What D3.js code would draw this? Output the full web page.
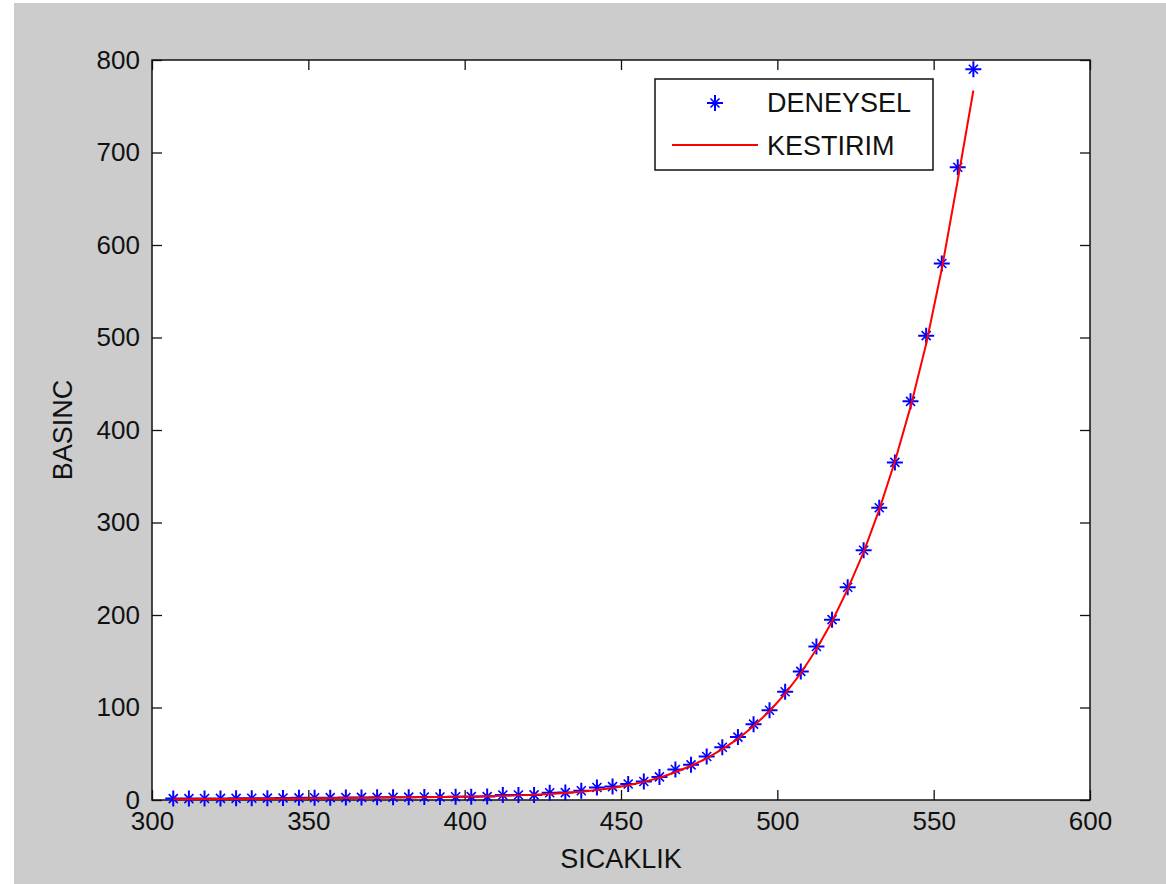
<!DOCTYPE html>
<html>
<head>
<meta charset="utf-8">
<script src="https://cdn.jsdelivr.net/npm/d3@7"></script>
<style>
  body { margin: 0; background: #fff; }
  svg text { font-family: "Liberation Sans", Arial, sans-serif; fill: #111; }
</style>
</head>
<body>
<div id="chart"></div>
<script>
// measured points (SICAKLIK vs BASINC)
const sicaklik = [306.8, 311.8, 316.8, 321.9, 326.9, 331.9, 336.9, 341.9, 347.0, 352.0,
  357.0, 362.0, 367.0, 372.0, 377.1, 382.1, 387.1, 392.1, 397.1, 402.1,
  407.2, 412.2, 417.2, 422.2, 427.2, 432.2, 437.3, 442.3, 447.3, 452.3,
  457.3, 462.3, 467.4, 472.4, 477.4, 482.4, 487.4, 492.4, 497.5, 502.5,
  507.5, 512.5, 517.5, 522.5, 527.6, 532.6, 537.6, 542.6, 547.6, 552.6,
  557.7, 562.7];
const deneysel = [1.5, 1.5, 1.6, 1.7, 1.8, 1.9, 2.0, 2.1, 2.3, 2.4,
  2.5, 2.6, 2.8, 2.9, 3.0, 3.1, 3.2, 3.3, 3.5, 3.6,
  3.7, 5.4, 5.4, 5.5, 7.8, 8.0, 10.0, 13.5, 14.5, 17.3,
  20, 25, 33, 38, 47, 57, 68, 82, 97, 117,
  139, 166, 195, 230, 270, 316, 365, 431, 502, 580,
  684, 790];
// fitted curve
const kestirim = [0.8, 0.9, 1.0, 1.1, 1.2, 1.3, 1.4, 1.5, 1.7, 1.8,
  2.0, 2.1, 2.3, 2.5, 2.7, 2.9, 3.1, 3.3, 3.5, 3.7,
  4.0, 4.5, 5.0, 5.7, 6.5, 7.6, 9.0, 10.8, 13.0, 16.0,
  19.6, 24, 30, 37, 45, 55, 66, 80, 96, 115,
  137, 163, 193, 228, 268, 314, 366, 425, 493, 574,
  670, 767];

const xTicks = [300, 350, 400, 450, 500, 550, 600];
const yTicks = [0, 100, 200, 300, 400, 500, 600, 700, 800];
const seriesNames = ["DENEYSEL", "KESTIRIM"];

const W = 1166, H = 884;
const plot = { left: 152, top: 60, right: 1090, bottom: 800 };

const svg = d3.select("#chart")
  .append("svg")
  .attr("width", W)
  .attr("height", H);

// figure background
svg.append("rect")
  .attr("x", 14).attr("y", 3)
  .attr("width", W - 14).attr("height", H - 3)
  .attr("fill", "#cccccc");

svg.append("rect")
  .attr("x", plot.left).attr("y", plot.top)
  .attr("width", plot.right - plot.left)
  .attr("height", plot.bottom - plot.top)
  .attr("fill", "#fff");

const x = d3.scaleLinear().domain([300, 600]).range([plot.left, plot.right]);
const y = d3.scaleLinear().domain([0, 800]).range([plot.bottom, plot.top]);

function styleAxis(g) {
  g.select(".domain").remove();
  g.selectAll(".tick line").attr("stroke", "#111").attr("stroke-width", 1.3);
  g.selectAll("text").style("font-size", "26px").attr("fill", "#111");
}

svg.append("g")
  .attr("transform", `translate(0,${plot.bottom})`)
  .call(d3.axisBottom(x).tickValues(xTicks).tickSize(-10).tickPadding(12))
  .call(styleAxis);

svg.append("g")
  .attr("transform", `translate(0,${plot.top})`)
  .call(d3.axisTop(x).tickValues(xTicks).tickSize(-10).tickFormat(""))
  .call(styleAxis);

svg.append("g")
  .attr("transform", `translate(${plot.left},0)`)
  .call(d3.axisLeft(y).tickValues(yTicks).tickSize(-10).tickPadding(12))
  .call(styleAxis);

svg.append("g")
  .attr("transform", `translate(${plot.right},0)`)
  .call(d3.axisRight(y).tickValues(yTicks).tickSize(-10).tickFormat(""))
  .call(styleAxis);

// axes box
svg.append("rect")
  .attr("x", plot.left).attr("y", plot.top)
  .attr("width", plot.right - plot.left)
  .attr("height", plot.bottom - plot.top)
  .attr("fill", "none")
  .attr("stroke", "#111")
  .attr("stroke-width", 1.5);

// star marker like matlab '*'
const starPath = "M-8,0H8M0,-8V8";
const starDiag = "M-4.5,-4.5L4.5,4.5M-4.5,4.5L4.5,-4.5";

function drawStar(g) {
  g.append("path").attr("d", starPath).attr("stroke", "#0000ff").attr("stroke-width", 2);
  g.append("path").attr("d", starDiag).attr("stroke", "#0000ff").attr("stroke-width", 1.6);
}

const points = sicaklik.map((t, i) => ({ t: t, p: deneysel[i], f: kestirim[i] }));

svg.append("g")
  .selectAll("g")
  .data(points)
  .enter()
  .append("g")
  .attr("transform", d => `translate(${x(d.t)},${y(d.p)})`)
  .each(function () { drawStar(d3.select(this)); });

const line = d3.line()
  .x(d => x(d.t))
  .y(d => y(d.f));

svg.append("path")
  .datum(points)
  .attr("d", line)
  .attr("fill", "none")
  .attr("stroke", "#ff0000")
  .attr("stroke-width", 2);

// axis labels
svg.append("text")
  .attr("x", (plot.left + plot.right) / 2)
  .attr("y", 868)
  .attr("text-anchor", "middle")
  .style("font-size", "27px")
  .text("SICAKLIK");

svg.append("text")
  .attr("transform", `translate(72,${(plot.top + plot.bottom) / 2}) rotate(-90)`)
  .attr("text-anchor", "middle")
  .style("font-size", "27px")
  .text("BASINC");

// legend
const legend = svg.append("g");
legend.append("rect")
  .attr("x", 655).attr("y", 79)
  .attr("width", 278).attr("height", 91)
  .attr("fill", "#fff")
  .attr("stroke", "#111")
  .attr("stroke-width", 1.5);

drawStar(legend.append("g").attr("transform", "translate(715,103)"));

legend.append("line")
  .attr("x1", 672).attr("x2", 758)
  .attr("y1", 145).attr("y2", 145)
  .attr("stroke", "#ff0000")
  .attr("stroke-width", 2);

legend.selectAll("text.lg")
  .data(seriesNames)
  .enter()
  .append("text")
  .attr("class", "lg")
  .attr("x", 767)
  .attr("y", (d, i) => 112 + i * 43)
  .style("font-size", "27px")
  .text(d => d);
</script>
</body>
</html>
